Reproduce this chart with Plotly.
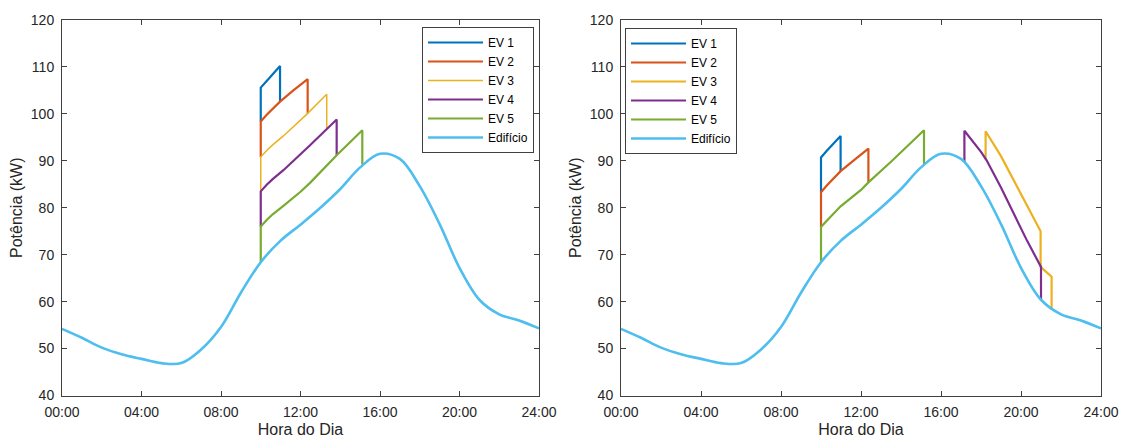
import plotly.graph_objects as go

# ---------------- data ----------------
x_tickvals = [0, 4, 8, 12, 16, 20, 24]
x_ticktext = ["00:00", "04:00", "08:00", "12:00", "16:00", "20:00", "24:00"]
y_tickvals = [40, 50, 60, 70, 80, 90, 100, 110, 120]

names = ["EV 1", "EV 2", "EV 3", "EV 4", "EV 5", "Edifício"]
colors = ["#0072BD", "#D95319", "#EDB120", "#7E2F8E", "#77AC30", "#4DBEEE"]

building_h = [0, 1, 2, 3, 4, 5, 6, 7, 8, 9, 10, 11, 12, 13, 14, 15, 16,
              17, 18, 19, 20, 21, 22, 23, 24]
building_kw = [54.2, 52.3, 50.2, 48.8, 47.8, 46.9, 46.9, 49.8, 54.6, 61.9, 68.4,
               73.0, 76.4, 80.0, 84.0, 88.6, 91.5, 90.4, 84.6, 76.5, 67.2, 60.4,
               57.3, 56.0, 54.3]

# left panel (stacked totals, kW)
left_ev1_h = [10, 10, 10.3, 10.6, 10.97, 10.97]
left_ev1_kw = [98.4, 105.6, 107.0, 108.4, 110.2, 102.6]
left_ev2_h = [10, 10, 10.3, 10.6, 10.97, 11.64, 12.36, 12.36]
left_ev2_kw = [90.8, 98.4, 99.8, 101.1, 102.6, 105.0, 107.4, 100.1]
left_ev3_h = [10, 10, 10.3, 10.6, 11.14, 12.0, 12.31, 13.32, 13.32]
left_ev3_kw = [83.5, 90.8, 92.2, 93.4, 95.3, 98.6, 99.9, 104.2, 96.8]
left_ev4_h = [10, 10, 10.3, 10.6, 11.14, 12.0, 12.48, 13.82, 13.82]
left_ev4_kw = [76.0, 83.5, 84.9, 86.1, 88.0, 91.3, 93.3, 98.8, 91.2]
left_ev5_h = [10, 10, 10.3, 10.6, 11.14, 12.0, 12.48, 13.82, 15.11, 15.11]
left_ev5_kw = [68.4, 76.0, 77.4, 78.6, 80.4, 83.4, 85.3, 91.2, 96.5, 89.2]

# right panel (stacked totals, kW)
right_ev1_h = [10, 10, 10.3, 10.6, 10.98, 10.98]
right_ev1_kw = [83.3, 90.7, 92.2, 93.6, 95.3, 87.8]
right_ev2_h = [10, 10, 10.3, 10.6, 10.98, 11.7, 12.37, 12.37]
right_ev2_kw = [75.9, 83.3, 84.8, 86.1, 87.8, 90.3, 92.6, 85.4]
right_ev3_h = [18.23, 18.23, 19.0, 19.62, 20.3, 20.98, 20.98, 21.53, 21.53]
right_ev3_kw = [90.3, 96.3, 91.0, 85.9, 80.5, 75.0, 67.4, 65.3, 58.2]
right_ev4_h = [17.17, 17.17, 18.0, 18.28, 19.0, 19.62, 20.3, 21.0, 21.0]
right_ev4_kw = [89.7, 96.4, 91.9, 90.1, 84.3, 78.8, 73.0, 67.4, 60.3]
right_ev5_h = [10, 10, 10.3, 10.6, 10.98, 12.0, 12.37, 13.5, 14.3, 15.15, 15.15]
right_ev5_kw = [68.4, 75.9, 77.3, 78.6, 80.3, 83.8, 85.4, 89.8, 93.0, 96.5, 89.3]

left_series = [(left_ev1_h, left_ev1_kw), (left_ev2_h, left_ev2_kw), (left_ev3_h, left_ev3_kw),
               (left_ev4_h, left_ev4_kw), (left_ev5_h, left_ev5_kw)]
right_series = [(right_ev1_h, right_ev1_kw), (right_ev2_h, right_ev2_kw), (right_ev3_h, right_ev3_kw),
                (right_ev4_h, right_ev4_kw), (right_ev5_h, right_ev5_kw)]

# ---------------- figure ----------------
fig = go.Figure()
FONT = "Liberation Sans, Arial, sans-serif"
TXT = "#262626"
AX = "#404040"

left_widths = [2.2, 2.2, 1.5, 2.2, 2.2]
right_widths = [2.2, 2.2, 2.2, 2.2, 2.2]

for i, (h, kw) in enumerate(left_series):
    fig.add_trace(go.Scatter(x=h, y=kw, mode="lines", name=names[i],
                             line=dict(color=colors[i], width=left_widths[i]),
                             xaxis="x", yaxis="y", legend="legend"))
fig.add_trace(go.Scatter(x=building_h, y=building_kw, mode="lines", name=names[5],
                         line=dict(color=colors[5], width=2.6, shape="spline", smoothing=1.0),
                         xaxis="x", yaxis="y", legend="legend"))

for i, (h, kw) in enumerate(right_series):
    fig.add_trace(go.Scatter(x=h, y=kw, mode="lines", name=names[i],
                             line=dict(color=colors[i], width=right_widths[i]),
                             xaxis="x2", yaxis="y2", legend="legend2"))
fig.add_trace(go.Scatter(x=building_h, y=building_kw, mode="lines", name=names[5],
                         line=dict(color=colors[5], width=2.6, shape="spline", smoothing=1.0),
                         xaxis="x2", yaxis="y2", legend="legend2"))

W, H = 1124, 439
ytop, ybot = 20, 395.5


def xax(domain, anchor):
    return dict(domain=domain, anchor=anchor, range=[0, 24], tickvals=x_tickvals, ticktext=x_ticktext,
                ticks="inside", ticklen=5, tickcolor=AX, showline=True, linecolor=AX, linewidth=1,
                mirror="ticks", showgrid=False, zeroline=False,
                tickfont=dict(family=FONT, size=14, color=TXT), ticklabelstandoff=4,
                title=dict(text="Hora do Dia", font=dict(family=FONT, size=16, color=TXT), standoff=4),
                automargin=False)


def yax(anchor):
    return dict(domain=[1 - ybot / H, 1 - ytop / H], anchor=anchor, range=[40, 120], tickvals=y_tickvals,
                ticks="inside", ticklen=5, tickcolor=AX, showline=True, linecolor=AX, linewidth=1,
                mirror="ticks", showgrid=False, zeroline=False,
                tickfont=dict(family=FONT, size=14, color=TXT), ticklabelstandoff=4,
                title=dict(text="Potência (kW)", font=dict(family=FONT, size=16, color=TXT), standoff=4),
                automargin=False)


legend_common = dict(bgcolor="white", bordercolor=AX, borderwidth=1,
                     font=dict(family=FONT, size=12, color="#000000"),
                     xanchor="left", yanchor="top", tracegroupgap=0, itemwidth=55,
                     traceorder="normal")

fig.update_layout(
    width=W, height=H,
    margin=dict(l=0, r=0, t=0, b=0),
    paper_bgcolor="white", plot_bgcolor="white",
    xaxis=xax([62 / W, 539 / W], "y"),
    yaxis=yax("x"),
    xaxis2=xax([621 / W, 1101 / W], "y2"),
    yaxis2=yax("x2"),
    legend=dict(x=422 / W, y=1 - 27 / H, **legend_common),
    legend2=dict(x=625 / W, y=1 - 28 / H, **legend_common),
    showlegend=True,
)

fig.write_html("out.html")
